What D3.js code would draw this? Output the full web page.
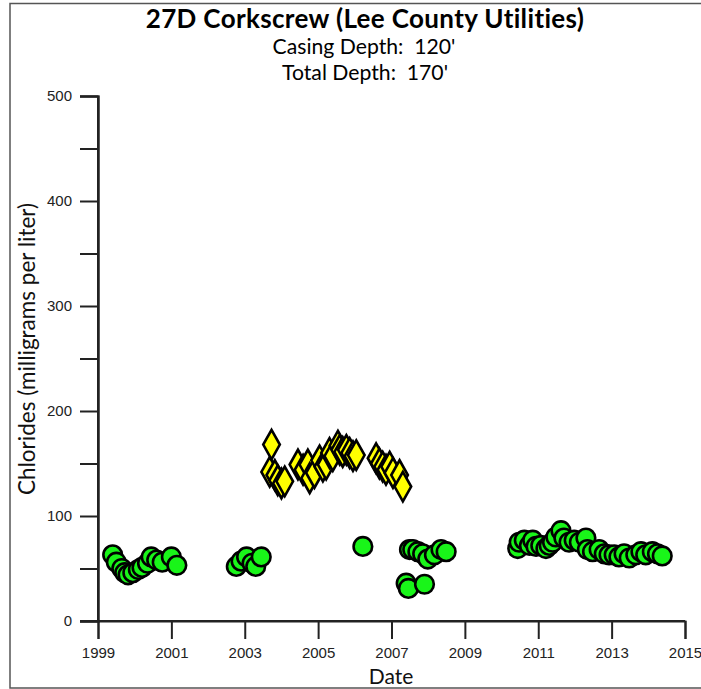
<!DOCTYPE html>
<html><head><meta charset="utf-8">
<script src="https://cdn.jsdelivr.net/npm/d3@7"></script>
<style>body{margin:0;background:#fff}svg{display:block}</style>
</head><body>
<script>
// Green circles (LCU chloride samples): decimal year, mg/L
const greenYears = [1999.4,1999.5,1999.65,1999.73,1999.82,1999.95,2000.1,2000.2,2000.35,2000.45,2000.6,2000.75,2001.0,2001.15,
  2002.77,2002.9,2003.05,2003.2,2003.3,2003.45,
  2006.22,2007.4,2007.46,2007.9,
  2007.49,2007.58,2007.72,2007.85,2007.99,2008.17,2008.35,2008.49,
  2010.44,2010.48,2010.62,2010.76,2010.85,2010.94,2011.07,2011.21,2011.3,2011.39,2011.48,2011.62,2011.7,2011.84,2011.98,2012.12,2012.3,
  2012.34,2012.48,2012.66,2012.8,2012.93,2013.07,2013.2,2013.34,2013.48,2013.66,2013.8,2013.93,2014.11,2014.25,2014.38];
const greenValues = [63,56,50,46,44,46,49,51,55,61,58,56,61,53,
  52,57,61,55,52,61,
  71,36,31,35,
  68,68,66,64,59,63,68,66,
  69,75,77,72,77,71,72,69,72,75,80,86,79,75,77,75,79,
  68,66,68,64,63,63,61,64,60,63,66,63,66,64,62];
// Yellow diamonds
const yellowYears = [2003.73,2003.68,2003.82,2003.9,2004.0,2004.09,
  2004.45,2004.59,2004.72,2004.77,2004.9,2005.04,2005.13,2005.22,2005.31,2005.4,2005.54,2005.59,2005.67,2005.77,2005.86,2005.95,2006.04,
  2006.58,2006.67,2006.76,2006.85,2006.95,2007.04,2007.22,2007.31];
const yellowValues = [168,142,139,134,131,133,
  149,144,149,136,141,153,147,149,160,157,167,163,161,163,160,157,158,
  155,150,147,144,147,141,139,128];
const xTicks = [1999,2001,2003,2005,2007,2009,2011,2013,2015];
const yTicks = [0,100,200,300,400,500];
const yMinorTicks = [50,150,250,350,450];
const titleText = "27D Corkscrew (Lee County Utilities)";
const subtitle1 = "Casing Depth:  120'";
const subtitle2 = "Total Depth:  170'";
const xLabel = "Date";
const yLabel = "Chlorides (milligrams per liter)";

const W = 701, H = 689;
const svg = d3.select("body").append("svg").attr("width", W).attr("height", H);

// outer frame
svg.append("rect").attr("x", 10).attr("y", 3.5).attr("width", 700).attr("height", 684.5)
  .attr("fill", "none").attr("stroke", "#555").attr("stroke-width", 1.5);

const x = d3.scaleLinear().domain([1999, 2015]).range([98, 685]);
const y = d3.scaleLinear().domain([0, 500]).range([621, 96]);

const tickFont = "Liberation Sans, Arial, sans-serif";
const labFont = "Lato, 'Open Sans', sans-serif";

// Y axis
const ya = svg.append("g").attr("transform", "translate(98,0)")
  .call(d3.axisLeft(y).tickValues(yTicks).tickSize(18).tickPadding(8).tickFormat(d3.format("d")));
ya.append("g").call(d3.axisLeft(y).tickValues(yMinorTicks).tickSize(18).tickFormat(""));
// X axis
const xa = svg.append("g").attr("transform", "translate(0,621)")
  .call(d3.axisBottom(x).tickValues(xTicks).tickSize(18).tickPadding(8).tickFormat(d3.format("d")));
[ya, xa].forEach(g => {
  g.selectAll(".domain").attr("stroke", "#222").attr("stroke-width", 2);
  g.selectAll(".tick line").attr("stroke", "#222").attr("stroke-width", 2);
  g.selectAll("text").attr("font-family", tickFont).attr("font-size", 15).attr("fill", "#222");
});
svg.append("line").attr("x1", 80).attr("x2", 685).attr("y1", y(0)).attr("y2", y(0))
  .attr("stroke", "#222").attr("stroke-width", 2);
svg.append("line").attr("x1", 98).attr("x2", 98).attr("y1", y(500)).attr("y2", y(0))
  .attr("stroke", "#222").attr("stroke-width", 2);

// Titles
svg.append("text").attr("x", 365).attr("y", 28).attr("text-anchor", "middle")
  .attr("font-family", labFont).attr("font-weight", "bold").attr("font-size", 26).attr("letter-spacing", 0.35)
  .attr("fill", "#000").text(titleText);
svg.append("text").attr("x", 364).attr("y", 54).attr("text-anchor", "middle").style("white-space", "pre")
  .attr("font-family", labFont).attr("font-size", 21.2).attr("fill", "#000").text(subtitle1);
svg.append("text").attr("x", 365).attr("y", 80).attr("text-anchor", "middle").style("white-space", "pre")
  .attr("font-family", labFont).attr("font-size", 21.2).attr("fill", "#000").text(subtitle2);
svg.append("text").attr("x", 391).attr("y", 684).attr("text-anchor", "middle")
  .attr("font-family", labFont).attr("font-size", 21).attr("fill", "#111").text(xLabel);
svg.append("text").attr("transform", "translate(35,349) rotate(-90)").attr("text-anchor", "middle")
  .attr("font-family", labFont).attr("font-size", 22.5).attr("fill", "#111").text(yLabel);

// Data
const green = greenYears.map((d, i) => ({x: d, v: greenValues[i]})).sort((a, b) => a.x - b.x);
const yellow = yellowYears.map((d, i) => ({x: d, v: yellowValues[i]})).sort((a, b) => a.x - b.x);

svg.append("g").selectAll("circle").data(green).join("circle")
  .attr("cx", d => x(d.x)).attr("cy", d => y(d.v)).attr("r", 9.3)
  .attr("fill", "#19f519").attr("stroke", "#000").attr("stroke-width", 2.6);

const dw = 8.3, dh = 14.8;
svg.append("g").selectAll("path").data(yellow).join("path")
  .attr("transform", d => `translate(${x(d.x)},${y(d.v)})`)
  .attr("d", `M0,${-dh}L${dw},0L0,${dh}L${-dw},0Z`)
  .attr("fill", "#ffff00").attr("stroke", "#000").attr("stroke-width", 2.6).attr("stroke-linejoin", "miter");
</script>
</body></html>
